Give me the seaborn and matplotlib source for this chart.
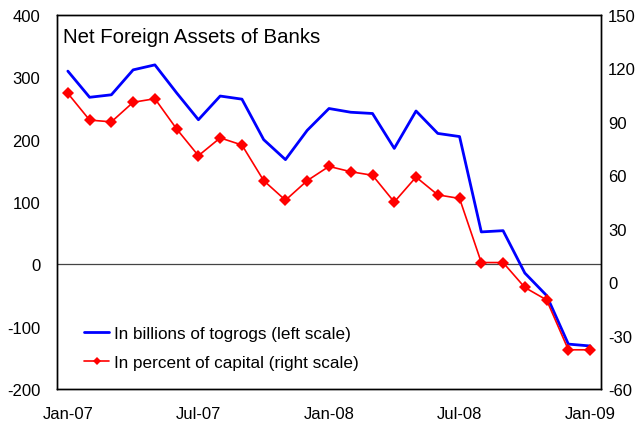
import numpy as np
import pandas as pd
import matplotlib
matplotlib.use("Agg")
import matplotlib.pyplot as plt
import seaborn as sns

# Monthly series, Jan-2007 .. Jan-2009
months = pd.date_range("2007-01-01", "2009-01-01", freq="MS")
nfa_billions = [310, 268, 272, 312, 320, 275, 232, 270, 265, 200, 168, 215, 250,
                244, 242, 186, 246, 210, 205, 52, 54, -14, -50, -128, -131]
nfa_pct_capital = [106, 91, 90, 101, 103, 86, 71, 81, 77, 57, 46, 57, 65,
                   62, 60, 45, 59, 49, 47, 11, 11, -3, -10, -38, -38]
tick_labels = ["Jan-07", "Jul-07", "Jan-08", "Jul-08", "Jan-09"]

df = pd.DataFrame({"idx": np.arange(len(months)),
                   "billions": nfa_billions,
                   "pct": nfa_pct_capital})

sns.set_theme(style="white")
plt.rcParams["font.family"] = ["Liberation Sans", "DejaVu Sans"]
plt.rcParams["axes.unicode_minus"] = False
plt.rcParams["text.color"] = "black"

fig = plt.figure(figsize=(6.38, 4.27), dpi=100)
ax = fig.add_axes([0.0893, 0.0867, 0.8527, 0.8758])
ax2 = ax.twinx()

sns.lineplot(data=df, x="idx", y="billions", ax=ax, color="#0000ff",
             linewidth=2, label="In billions of togrogs (left scale)", legend=False)
sns.lineplot(data=df, x="idx", y="pct", ax=ax2, color="#ff0000",
             linewidth=1.2, marker="D", markersize=6, markeredgewidth=0,
             label="In percent of capital (right scale)", legend=False)

ax.axhline(0, color="#444444", linewidth=0.9, zorder=0)

ax.set_xlim(-0.5, len(months) - 0.5)
ax.set_ylim(-200, 400)
ax.set_yticks(np.arange(-200, 401, 100))
ax2.set_ylim(-60, 150)
ax2.set_yticks(np.arange(-60, 151, 30))
ax.set_xticks([0, 6, 12, 18, 24])
ax.set_xticklabels(tick_labels)

for a in (ax, ax2):
    a.set_xlabel("")
    a.set_ylabel("")
    a.tick_params(length=0, labelsize=12, colors="black")
    for s in a.spines.values():
        s.set_color("black")
        s.set_linewidth(1.0)
ax.tick_params(axis="y", pad=12)
ax2.tick_params(axis="y", pad=5)
ax.tick_params(axis="x", pad=12)

ax.text(0.011, 0.968, "Net Foreign Assets of Banks", transform=ax.transAxes,
        fontsize=14.7, va="top", ha="left", color="black")

h1, l1 = ax.get_legend_handles_labels()
h2, l2 = ax2.get_legend_handles_labels()
leg = ax2.legend(h1 + h2, l1 + l2, loc="lower left", bbox_to_anchor=(0.05, 0.05),
                 frameon=False, fontsize=12.3, handlelength=1.45,
                 handletextpad=0.3, labelspacing=0.85,
                 borderpad=0, borderaxespad=0, labelcolor="black")
for line in leg.get_lines():
    line.set_markersize(4)

fig.savefig("out.png", dpi=100)
